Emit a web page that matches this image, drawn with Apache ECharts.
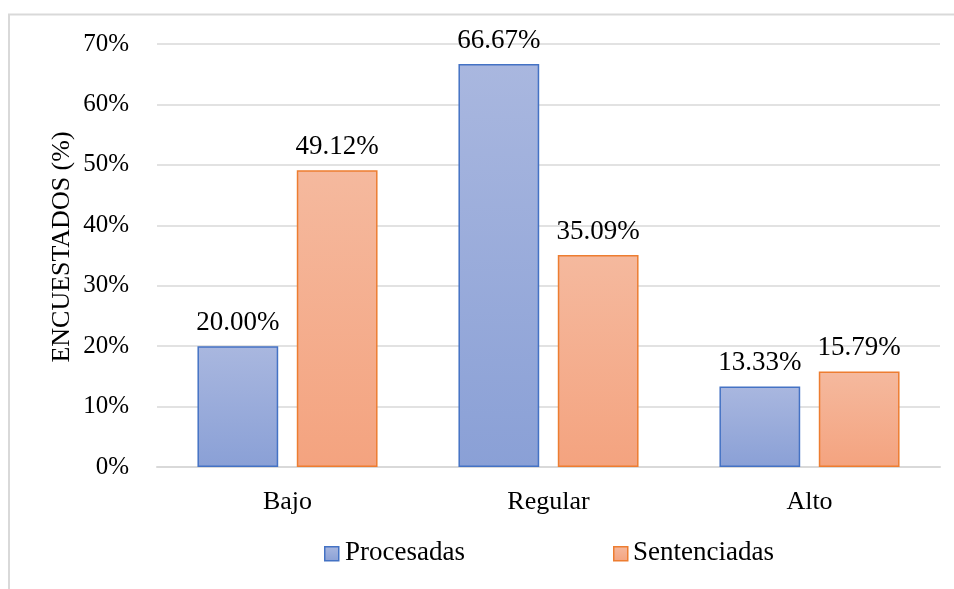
<!DOCTYPE html>
<html>
<head>
<meta charset="utf-8">
<script src="https://cdn.jsdelivr.net/npm/echarts@6/dist/echarts.min.js"></script>
<style>
  html, body { margin: 0; padding: 0; background: #fff; }
  #chart { width: 954px; height: 589px; }
</style>
</head>
<body>
<div id="chart"></div>
<script>
// Survey results by level
const categories = ['Bajo', 'Regular', 'Alto'];
const seriesNames = ['Procesadas', 'Sentenciadas'];
const procesadas = [20.00, 66.67, 13.33];
const sentenciadas = [49.12, 35.09, 15.79];
const yTicks = [0, 10, 20, 30, 40, 50, 60, 70];
const yTitle = 'ENCUESTADOS (%)';

const FONT = 'Liberation Serif';

function grad(top, bottom) {
  return new echarts.graphic.LinearGradient(0, 0, 0, 1, [
    { offset: 0, color: top },
    { offset: 1, color: bottom }
  ]);
}

const blueFill = grad('#A9B7DF', '#8AA0D6');
const orangeFill = grad('#F5B99E', '#F4A37F');
const blueEdge = '#4472C4';
const orangeEdge = '#ED7D31';

// legend swatch positions and the names drawn next to them
const legendSlots = [
  { left: 324, textX: 345 },
  { left: 613, textX: 633 }
];
const legendY = 553;

function legendFor(i, fill, edge) {
  return {
    left: legendSlots[i].left,
    top: legendY - 7,
    padding: 0,
    itemWidth: 14,
    itemHeight: 14,
    formatter: () => '',
    textStyle: { fontSize: 1 },
    data: [{ name: seriesNames[i], icon: 'rect', itemStyle: { color: fill, borderColor: edge, borderWidth: 1.5 } }]
  };
}

function legendName(i) {
  return {
    type: 'text',
    x: legendSlots[i].textX,
    y: legendY,
    style: {
      text: seriesNames[i],
      font: '27px "Liberation Serif"',
      fill: '#000',
      align: 'left',
      verticalAlign: 'middle'
    },
    silent: true
  };
}

const chart = echarts.init(document.getElementById('chart'), null, { renderer: 'canvas' });

chart.setOption({
  animation: false,
  backgroundColor: '#ffffff',
  textStyle: { fontFamily: FONT, color: '#000' },
  graphic: [
    {
      type: 'rect',
      shape: { x: 9, y: 14.5, width: 1200, height: 1200 },
      style: { fill: 'none', stroke: '#D9D9D9', lineWidth: 2 },
      silent: true,
      z: -10
    },
    {
      type: 'text',
      x: 62,
      y: 247,
      rotation: Math.PI / 2,
      style: {
        text: yTitle,
        font: '26px "Liberation Serif"',
        fill: '#000',
        align: 'center',
        verticalAlign: 'middle'
      },
      silent: true
    },
    legendName(0),
    legendName(1)
  ],
  grid: { left: 157, right: 14, top: 44, bottom: 122, containLabel: false },
  legend: [
    legendFor(0, blueFill, blueEdge),
    legendFor(1, orangeFill, orangeEdge)
  ],
  xAxis: {
    type: 'category',
    data: categories,
    axisLine: { lineStyle: { color: '#D9D9D9', width: 2 } },
    axisTick: { show: false },
    axisLabel: { fontFamily: FONT, fontSize: 26, color: '#000', margin: 22 }
  },
  yAxis: {
    type: 'value',
    min: yTicks[0],
    max: yTicks[yTicks.length - 1],
    interval: 10,
    axisLine: { show: false },
    axisTick: { show: false },
    splitLine: { lineStyle: { color: '#D9D9D9', width: 1.5 } },
    axisLabel: { fontFamily: FONT, fontSize: 25, color: '#000', margin: 28, formatter: '{value}%' }
  },
  series: [
    {
      name: seriesNames[0],
      type: 'bar',
      data: procesadas,
      barGap: '23%',
      barCategoryGap: '31%',
      itemStyle: { color: blueFill, borderColor: blueEdge, borderWidth: 1.5 },
      label: {
        show: true, position: 'top', distance: 10,
        fontFamily: FONT, fontSize: 27, color: '#000',
        formatter: p => p.value.toFixed(2) + '%'
      }
    },
    {
      name: seriesNames[1],
      type: 'bar',
      data: sentenciadas,
      itemStyle: { color: orangeFill, borderColor: orangeEdge, borderWidth: 1.5 },
      label: {
        show: true, position: 'top', distance: 10,
        fontFamily: FONT, fontSize: 27, color: '#000',
        formatter: p => p.value.toFixed(2) + '%'
      }
    }
  ]
});
</script>
</body>
</html>
